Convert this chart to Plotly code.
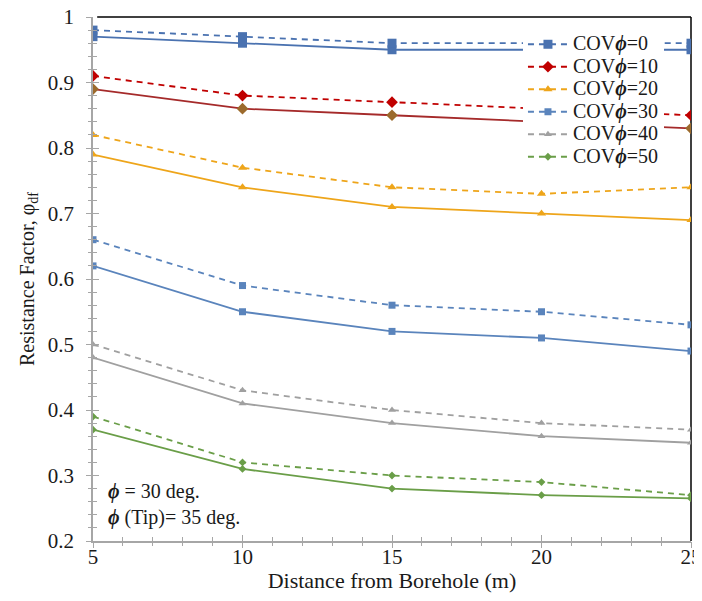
import plotly.graph_objects as go

distance = [5, 10, 15, 20, 25]
legend_names = ["COV<b><i>ϕ</i></b>=0", "COV<b><i>ϕ</i></b>=10", "COV<b><i>ϕ</i></b>=20",
                "COV<b><i>ϕ</i></b>=30", "COV<b><i>ϕ</i></b>=40", "COV<b><i>ϕ</i></b>=50"]

dashed_cov0 = [0.98, 0.97, 0.96, 0.96, 0.96]
solid_cov0 = [0.97, 0.96, 0.95, 0.95, 0.95]
dashed_cov10 = [0.91, 0.88, 0.87, 0.86, 0.85]
solid_cov10 = [0.89, 0.86, 0.85, 0.84, 0.83]
dashed_cov20 = [0.82, 0.77, 0.74, 0.73, 0.74]
solid_cov20 = [0.79, 0.74, 0.71, 0.70, 0.69]
dashed_cov30 = [0.66, 0.59, 0.56, 0.55, 0.53]
solid_cov30 = [0.62, 0.55, 0.52, 0.51, 0.49]
dashed_cov40 = [0.50, 0.43, 0.40, 0.38, 0.37]
solid_cov40 = [0.48, 0.41, 0.38, 0.36, 0.35]
dashed_cov50 = [0.39, 0.32, 0.30, 0.29, 0.27]
solid_cov50 = [0.37, 0.31, 0.28, 0.27, 0.265]

styles = [
    # (dashed values, solid values, dash color, dash marker color, solid line color, solid marker color, symbol, size)
    (dashed_cov0, solid_cov0, "#4A72B0", "#4A72B0", "#4A72B0", "#4A72B0", "square", 9),
    (dashed_cov10, solid_cov10, "#C00000", "#C00000", "#A52A2A", "#9C6A2C", "diamond", 9),
    (dashed_cov20, solid_cov20, "#EEA51A", "#EEA51A", "#EEA51A", "#EEA51A", "triangle-up", 8),
    (dashed_cov30, solid_cov30, "#5A84BC", "#5A84BC", "#5A84BC", "#5A84BC", "square", 7),
    (dashed_cov40, solid_cov40, "#A0A0A0", "#A0A0A0", "#A0A0A0", "#A0A0A0", "triangle-up", 7),
    (dashed_cov50, solid_cov50, "#6A9E48", "#6A9E48", "#6A9E48", "#6A9E48", "diamond", 6),
]

fig = go.Figure()
for i, (dv, sv, dc, dmc, sc, smc, sym, sz) in enumerate(styles):
    fig.add_trace(go.Scatter(
        x=distance, y=sv, mode="lines+markers", showlegend=False,
        line=dict(color=sc, width=1.8),
        marker=dict(symbol=sym, size=sz, color=smc),
    ))
for i, (dv, sv, dc, dmc, sc, smc, sym, sz) in enumerate(styles):
    fig.add_trace(go.Scatter(
        x=distance, y=dv, mode="lines+markers",
        name='<span style="font-size:20px">' + legend_names[i] + "</span>",
        line=dict(color=dc, width=1.8, dash="6px,5px"),
        marker=dict(symbol=sym, size=sz, color=dmc),
    ))

font_family = "Liberation Serif"
axis_gray = "#A6A6A6"
txt = "#1A1A1A"

# page has an 8px body margin; figure sized so that it fills the 702x601 window from (8,8)
fig.update_layout(
    width=694, height=585,
    margin=dict(l=85, r=11, t=9, b=52),
    paper_bgcolor="white", plot_bgcolor="white",
    font=dict(family=font_family, size=19, color=txt),
    showlegend=True,
    legend=dict(
        x=0.719, y=0.979, xanchor="left", yanchor="top",
        bgcolor="white", borderwidth=0,
        font=dict(family=font_family, size=15, color=txt),
        itemwidth=40, tracegroupgap=0,
    ),
    xaxis=dict(
        range=[5, 25], dtick=5, tick0=5, automargin=False,
        showgrid=False, zeroline=False,
        showline=True, linecolor=axis_gray, linewidth=1.5,
        ticks="inside", ticklen=6, tickcolor=axis_gray, tickwidth=1.2,
        minor=dict(dtick=1, ticks="inside", ticklen=4, tickcolor=axis_gray, tickwidth=1),
        tickfont=dict(family=font_family, size=21, color=txt),
        ticklabelstandoff=-4, ticklabeloverflow="allow",
        title=dict(text="Distance from Borehole (m)", font=dict(family=font_family, size=22, color=txt), standoff=13),
    ),
    yaxis=dict(
        range=[0.2, 1.0], dtick=0.1, tick0=0.2, automargin=False,
        showgrid=False, zeroline=False,
        showline=True, linecolor=axis_gray, linewidth=1.5,
        ticks="inside", ticklen=6, tickcolor=axis_gray, tickwidth=1.2,
        minor=dict(dtick=0.02, ticks="inside", ticklen=4, tickcolor=axis_gray, tickwidth=1),
        tickfont=dict(family=font_family, size=21, color=txt),
        ticklabelstandoff=13, ticklabeloverflow="allow",
        tickformat="~g",
        title=dict(text="Resistance Factor, φ<sub>df</sub>", font=dict(family=font_family, size=20, color=txt), standoff=8),
    ),
    xaxis2=dict(
        overlaying="x", matches="x", anchor="y", side="bottom",
        range=[5, 25], dtick=5, tick0=5, showticklabels=False, showgrid=False, zeroline=False,
        showline=False, ticks="outside", ticklen=6, tickcolor=axis_gray, tickwidth=1.2,
        minor=dict(dtick=1, ticks="outside", ticklen=4, tickcolor=axis_gray, tickwidth=1),
    ),
    yaxis2=dict(
        overlaying="y", matches="y", anchor="x", side="left",
        range=[0.2, 1.0], dtick=0.1, tick0=0.2, showticklabels=False, showgrid=False, zeroline=False,
        showline=False, ticks="outside", ticklen=6, tickcolor=axis_gray, tickwidth=1.2,
        minor=dict(dtick=0.02, ticks="outside", ticklen=4, tickcolor=axis_gray, tickwidth=1),
    ),
    shapes=[
        dict(type="line", xref="paper", yref="paper", x0=0.007, x1=1, y0=1, y1=1,
             line=dict(color="black", width=1.5), layer="below"),
        dict(type="line", xref="paper", yref="paper", x0=1, x1=1, y0=0, y1=1,
             line=dict(color="black", width=1.5), layer="below"),
    ],
    annotations=[
        dict(xref="paper", yref="paper", x=0.022, y=0.02, xanchor="left", yanchor="bottom",
             align="left", showarrow=False,
             text="<b><i>ϕ</i></b> = 30 deg.<br><b><i>ϕ</i></b> (Tip)= 35 deg.",
             font=dict(family=font_family, size=20, color=txt)),
    ],
)

fig.add_trace(go.Scatter(x=[None], y=[None], xaxis="x2", yaxis="y2", showlegend=False, hoverinfo="skip"))

fig.write_html("out.html")
